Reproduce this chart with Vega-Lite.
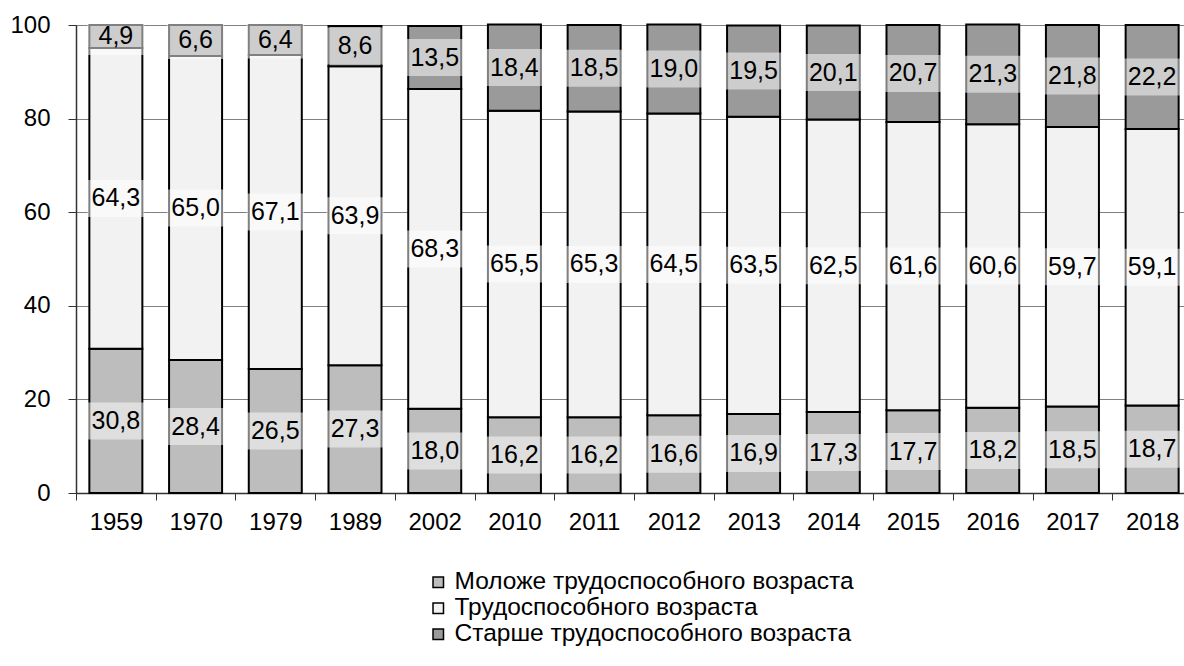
{
  "$schema": "https://vega.github.io/schema/vega-lite/v6.json",
  "width": 1116,
  "height": 468,
  "autosize": {"type": "none"},
  "padding": {"left": 76, "top": 25, "right": 0, "bottom": 173},
  "background": "white",
  "config": {
    "locale": {"number": {"decimal": ",", "thousands": " ", "grouping": [3], "currency": ["", ""]}},
    "font": "Liberation Sans",
    "view": {"stroke": null}
  },
  "data": {
    "values": [
      {"year": "1959", "group": "Моложе трудоспособного возраста", "k": 1, "value": 30.8},
      {"year": "1959", "group": "Трудоспособного возраста", "k": 2, "value": 64.3},
      {"year": "1959", "group": "Старше трудоспособного возраста", "k": 3, "value": 4.9},
      {"year": "1970", "group": "Моложе трудоспособного возраста", "k": 1, "value": 28.4},
      {"year": "1970", "group": "Трудоспособного возраста", "k": 2, "value": 65.0},
      {"year": "1970", "group": "Старше трудоспособного возраста", "k": 3, "value": 6.6},
      {"year": "1979", "group": "Моложе трудоспособного возраста", "k": 1, "value": 26.5},
      {"year": "1979", "group": "Трудоспособного возраста", "k": 2, "value": 67.1},
      {"year": "1979", "group": "Старше трудоспособного возраста", "k": 3, "value": 6.4},
      {"year": "1989", "group": "Моложе трудоспособного возраста", "k": 1, "value": 27.3},
      {"year": "1989", "group": "Трудоспособного возраста", "k": 2, "value": 63.9},
      {"year": "1989", "group": "Старше трудоспособного возраста", "k": 3, "value": 8.6},
      {"year": "2002", "group": "Моложе трудоспособного возраста", "k": 1, "value": 18.0},
      {"year": "2002", "group": "Трудоспособного возраста", "k": 2, "value": 68.3},
      {"year": "2002", "group": "Старше трудоспособного возраста", "k": 3, "value": 13.5},
      {"year": "2010", "group": "Моложе трудоспособного возраста", "k": 1, "value": 16.2},
      {"year": "2010", "group": "Трудоспособного возраста", "k": 2, "value": 65.5},
      {"year": "2010", "group": "Старше трудоспособного возраста", "k": 3, "value": 18.4},
      {"year": "2011", "group": "Моложе трудоспособного возраста", "k": 1, "value": 16.2},
      {"year": "2011", "group": "Трудоспособного возраста", "k": 2, "value": 65.3},
      {"year": "2011", "group": "Старше трудоспособного возраста", "k": 3, "value": 18.5},
      {"year": "2012", "group": "Моложе трудоспособного возраста", "k": 1, "value": 16.6},
      {"year": "2012", "group": "Трудоспособного возраста", "k": 2, "value": 64.5},
      {"year": "2012", "group": "Старше трудоспособного возраста", "k": 3, "value": 19.0},
      {"year": "2013", "group": "Моложе трудоспособного возраста", "k": 1, "value": 16.9},
      {"year": "2013", "group": "Трудоспособного возраста", "k": 2, "value": 63.5},
      {"year": "2013", "group": "Старше трудоспособного возраста", "k": 3, "value": 19.5},
      {"year": "2014", "group": "Моложе трудоспособного возраста", "k": 1, "value": 17.3},
      {"year": "2014", "group": "Трудоспособного возраста", "k": 2, "value": 62.5},
      {"year": "2014", "group": "Старше трудоспособного возраста", "k": 3, "value": 20.1},
      {"year": "2015", "group": "Моложе трудоспособного возраста", "k": 1, "value": 17.7},
      {"year": "2015", "group": "Трудоспособного возраста", "k": 2, "value": 61.6},
      {"year": "2015", "group": "Старше трудоспособного возраста", "k": 3, "value": 20.7},
      {"year": "2016", "group": "Моложе трудоспособного возраста", "k": 1, "value": 18.2},
      {"year": "2016", "group": "Трудоспособного возраста", "k": 2, "value": 60.6},
      {"year": "2016", "group": "Старше трудоспособного возраста", "k": 3, "value": 21.3},
      {"year": "2017", "group": "Моложе трудоспособного возраста", "k": 1, "value": 18.5},
      {"year": "2017", "group": "Трудоспособного возраста", "k": 2, "value": 59.7},
      {"year": "2017", "group": "Старше трудоспособного возраста", "k": 3, "value": 21.8},
      {"year": "2018", "group": "Моложе трудоспособного возраста", "k": 1, "value": 18.7},
      {"year": "2018", "group": "Трудоспособного возраста", "k": 2, "value": 59.1},
      {"year": "2018", "group": "Старше трудоспособного возраста", "k": 3, "value": 22.2}
    ]
  },
  "transform": [
    {"stack": "value", "groupby": ["year"], "sort": [{"field": "k", "order": "ascending"}], "as": ["v0", "v1"]},
    {"calculate": "(datum.v0 + datum.v1) / 2", "as": "mid"}
  ],
  "encoding": {
    "x": {
      "field": "year",
      "type": "ordinal",
      "sort": null,
      "scale": {"paddingInner": 0.335, "paddingOuter": 0.1675},
      "axis": {
        "title": null,
        "labelAngle": 0,
        "labelFontSize": 24,
        "labelColor": "black",
        "labelFont": "Liberation Sans",
        "labelPadding": 10,
        "tickSize": 7,
        "tickColor": "#333333",
        "tickWidth": 1,
        "tickOffset": -39.86,
        "labelOffset": 39.86,
        "domainColor": "#333333",
        "domainWidth": 1.5,
        "grid": false
      }
    }
  },
  "layer": [
    {
      "mark": {"type": "bar", "stroke": "black", "strokeWidth": 2, "opacity": 1},
      "encoding": {
        "y": {
          "field": "v0",
          "type": "quantitative",
          "scale": {"domain": [0, 100], "nice": false},
          "axis": {
            "title": null,
            "values": [0, 20, 40, 60, 80, 100],
            "labelFontSize": 24,
            "labelColor": "black",
            "labelFont": "Liberation Sans",
            "labelPadding": 18,
            "tickSize": 8,
            "tickColor": "#333333",
            "domainColor": "#333333",
            "domainWidth": 1.5,
            "grid": true,
            "gridColor": "#808080",
            "gridWidth": 1.2
          }
        },
        "y2": {"field": "v1"},
        "fill": {
          "field": "group",
          "type": "nominal",
          "scale": {
            "domain": ["Моложе трудоспособного возраста", "Трудоспособного возраста", "Старше трудоспособного возраста"],
            "range": ["#bdbdbd", "#f2f2f2", "#9a9a9a"]
          },
          "legend": {
            "title": null,
            "orient": "none",
            "legendX": 350,
            "legendY": 545,
            "direction": "vertical",
            "padding": 0,
            "symbolType": "square",
            "symbolSize": 110,
            "symbolStrokeColor": "black",
            "symbolStrokeWidth": 1.5,
            "symbolOpacity": 1,
            "labelFontSize": 24.5,
            "labelFont": "Liberation Sans",
            "labelColor": "black",
            "labelOffset": 4,
            "rowPadding": 1,
            "labelLimit": 600
          }
        }
      }
    },
    {
      "mark": {"type": "tick", "thickness": 37, "size": 57, "color": "white", "opacity": 0.5},
      "encoding": {
        "y": {"field": "mid", "type": "quantitative"}
      }
    },
    {
      "mark": {"type": "text", "fontSize": 25, "font": "Liberation Sans", "color": "black", "baseline": "middle", "align": "center"},
      "encoding": {
        "y": {"field": "mid", "type": "quantitative"},
        "text": {"field": "value", "type": "quantitative", "format": ".1f"}
      }
    }
  ]
}
